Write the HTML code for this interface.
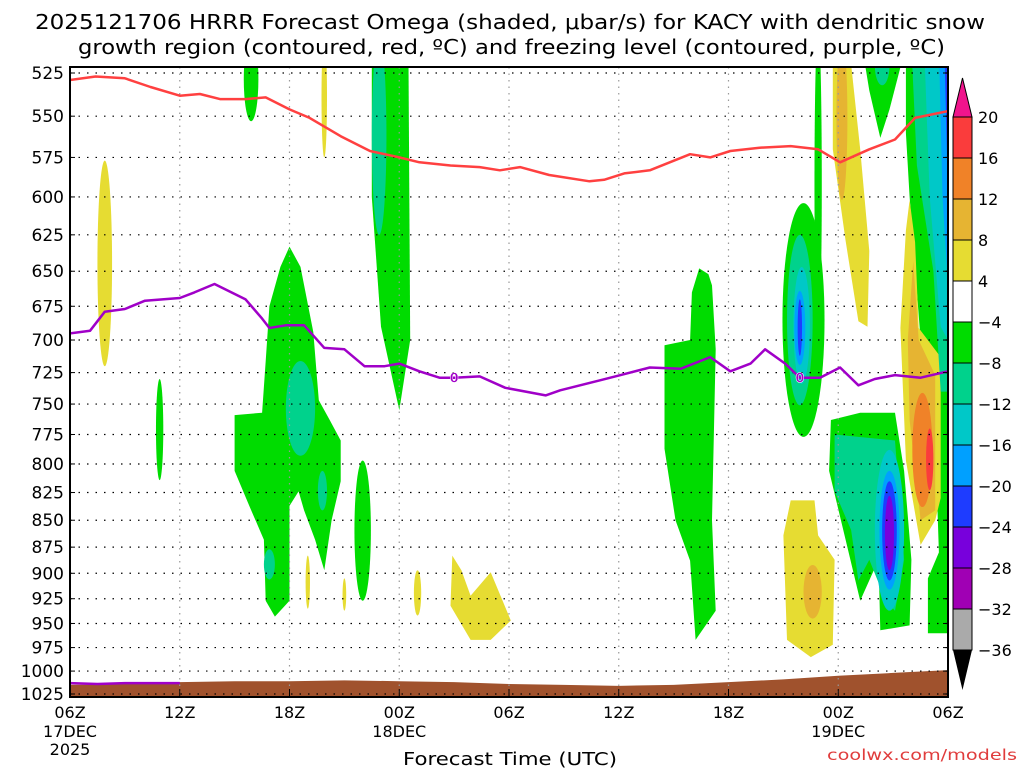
<!DOCTYPE html>
<html><head><meta charset="utf-8"><style>
html,body{margin:0;padding:0;background:#fff;width:1024px;height:768px;overflow:hidden}
svg text{font-family:"DejaVu Sans","Liberation Sans",sans-serif}
</style></head><body>
<svg id="c" width="1024" height="768" viewBox="0 0 1024 768" xmlns="http://www.w3.org/2000/svg">
<text x="35" y="29" font-size="20" textLength="950" lengthAdjust="spacingAndGlyphs">2025121706 HRRR Forecast Omega (shaded, μbar/s) for KACY with dendritic snow</text>
<text x="78" y="54" font-size="20" textLength="867" lengthAdjust="spacingAndGlyphs">growth region (contoured, red, ºC) and freezing level (contoured, purple, ºC)</text>
<g id="shade"></g>
<g id="grid"></g>
<g id="lines"></g>
<g id="axes"></g>
<g id="cbar"></g>
<text x="403" y="765" font-size="18" textLength="214" lengthAdjust="spacingAndGlyphs">Forecast Time (UTC)</text>
<text x="827" y="760" font-size="15" fill="#e03c3c" textLength="190" lengthAdjust="spacingAndGlyphs">coolwx.com/models</text>
</svg>
<script>
const pressureTicks=[525,550,575,600,625,650,675,700,725,750,775,800,825,850,875,900,925,950,975,1000,1025];
const timeTicks=[0,6,12,18,24,30,36,42,48];
const timeLabels=["06Z","12Z","18Z","00Z","06Z","12Z","18Z","00Z","06Z"];
const dateLabels={0:["17DEC","2025"],18:["18DEC"],42:["19DEC"]};
const levelColors={"1":"#e6dc32","2":"#e6b432","3":"#f08228","4":"#fa3c3c","-1":"#00dc00","-2":"#00d28c","-3":"#00c8c8","-4":"#00a0ff","-5":"#1e3cff","-6":"#7800dc","-7":"#a000b4"};
const cbarColors=["#fa3c3c","#f08228","#e6b432","#e6dc32","#ffffff","#00dc00","#00d28c","#00c8c8","#00a0ff","#1e3cff","#7800dc","#a000b4","#aaaaaa"];
const cbarLabels=["20","16","12","8","4","\u22124","\u22128","\u221212","\u221216","\u221220","\u221224","\u221228","\u221232","\u221236"];
// ellipses: [hourCenter, pTop, pBottom, halfWidthHours, level]
const ellipses=[
[1.9,577,720,0.4,1],[4.9,730,814,0.2,-1],[9.9,505,553,0.4,-1],[13.9,505,575,0.15,1],
[16.9,505,625,0.4,-2],[12.6,716,793,0.8,-2],[13.8,806,841,0.25,-2],[10.9,877,906,0.3,-2],
[16.0,797,927,0.45,-1],[13.0,883,935,0.12,1],[15.0,905,937,0.1,1],[19.0,897,942,0.2,1],
[40.9,500,700,0.2,-1],[40.1,604,777,1.15,-1],[39.9,625,751,0.7,-2],[40.0,647,734,0.45,-3],
[39.9,664,719,0.3,-4],[39.9,670,712,0.12,-5],[42.2,505,602,0.3,2],[44.4,510,532,0.4,-2],
[46.6,741,838,0.55,3],[47.0,770,823,0.2,4],[44.8,788,937,0.8,-3],[44.8,806,916,0.55,-4],
[44.8,815,907,0.4,-5],[44.8,828,897,0.25,-6],[40.6,892,945,0.5,2]
];
// polygons: level, then [hour, pressure] vertices
const polyLevels=[-1,-1,1,1,-1,-1,-2,-3,-4,-5,1,2,-1,-2,1];
const polyPoints=[
[[16.5,510],[18.5,510],[18.6,700],[18.0,755],[17.0,690],[16.5,600]],
[[12.0,633],[12.6,647],[13.3,694],[13.6,747],[14.2,763],[14.8,780],[14.8,815],[14.3,850],[13.9,897],[13.4,868],[12.8,841],[12.5,824],[12.0,837],[12.0,927],[11.2,943],[10.7,927],[10.6,868],[9.8,837],[9.0,806],[9.0,759],[10.5,757],[10.7,716],[10.9,675],[11.5,647]],
[[20.9,883],[21.4,897],[21.9,922],[23.0,899],[24.1,947],[23.0,967],[21.9,967],[20.8,932]],
[[41.7,510],[42.6,510],[43.2,570],[43.7,636],[43.6,690],[43.1,686],[42.4,629],[41.7,570]],
[[43.3,510],[45.7,510],[44.8,546],[44.3,563],[43.7,535]],
[[45.7,510],[48,510],[48,960],[46.9,960],[46.9,905],[47.5,880],[47.3,780],[46.5,700],[45.9,600],[45.7,560]],
[[46.0,510],[48,510],[48,740],[47.6,740],[47.2,650],[46.3,580]],
[[46.7,510],[48,510],[48,700],[47.6,690],[47.0,600]],
[[47.5,510],[48,510],[48,660],[47.7,600]],
[[47.8,510],[48,510],[48,600]],
[[45.9,602],[46.2,630],[46.4,691],[47.6,713],[47.6,830],[47.3,850],[46.5,873],[45.7,797],[45.4,691],[45.7,622]],
[[46.1,643],[46.4,700],[47.3,727],[47.3,841],[46.5,850],[45.9,763],[45.8,700]],
[[41.6,763],[43.2,757],[45.1,757],[45.6,806],[46.0,887],[45.9,952],[44.3,957],[44.2,887],[43.2,927],[42.4,868],[41.5,806]],
[[41.8,775],[45.1,780],[45.6,887],[45.1,937],[44.6,927],[43.7,887],[43.1,907],[42.7,859],[41.8,824]],
[[39.4,832],[40.7,832],[40.9,864],[41.8,887],[41.7,972],[40.5,985],[39.2,967],[39.0,864]]
];
const greenColumn=[[34.4,648],[34.9,652],[35.1,660],[35.3,707],[35.1,850],[35.3,937],[34.2,967],[33.9,888],[33.1,850],[32.5,787],[32.5,704],[33.9,700],[34.0,665]];
const dgzHours=[0,1.4,3.0,4.4,6.0,7.1,8.2,9.6,10.7,12.0,13.1,14.8,16.4,18.0,19.1,20.8,22.4,23.5,24.6,26.2,28.4,29.2,30.3,31.7,33.9,35.0,36.1,37.7,39.4,40.9,42.1,43.7,45.1,46.2,48.0];
const dgzPres=[529,527,528,533,538,537,540,540,539,546,551,562,571,575,578,580,581,583,581,586,590,589,585,583,573,575,571,569,568,570,578,570,564,551,547];
const frzHours=[0,1.1,1.9,3.0,4.1,6.0,6.8,7.9,9.6,10.5,10.9,11.8,12.8,13.9,15.0,16.1,17.2,18.0,19.1,20.2,21.0,22.4,23.8,26.0,26.8,29.0,30.1,31.7,33.4,35.0,36.1,37.2,38.0,39.1,39.9,41.0,42.1,43.1,44.0,45.1,46.5,48.0];
const frzPres=[695,693,679,677,671,669,665,659,670,684,691,689,689,706,707,720,720,718,724,729,729,728,737,743,739,731,727,721,722,713,724,718,707,718,729,729,721,735,730,727,729,724];
const frzLowHours=[0,1.5,3,6];
const frzLowPres=[1013,1014,1013,1013];
const sfcHours=[0,3,6,9,12,15,18,21,24,27,30,33,36,39,42,45,48];
const sfcPres=[1015,1014,1012,1011,1011,1010,1011,1012,1014,1015,1016,1015,1012,1009,1005,1002,999];

const NS="http://www.w3.org/2000/svg";
const X0=70,X1=948,YT=67,YB=697;
const X=h=>X0+h*(X1-X0)/48;
const lp0=Math.log(525),lp1=Math.log(1025);
const Y=p=>73+(Math.log(p)-lp0)/(lp1-lp0)*621;
function mk(tag,attrs,parent){const e=document.createElementNS(NS,tag);for(const k in attrs)e.setAttribute(k,attrs[k]);parent.appendChild(e);return e;}
const shade=document.getElementById('shade'),grid=document.getElementById('grid'),lines=document.getElementById('lines'),axes=document.getElementById('axes'),cbar=document.getElementById('cbar');
const svg=document.getElementById('c');
const defs=mk('defs',{},svg);
const cp=mk('clipPath',{id:'plotclip'},defs);
mk('rect',{x:X0,y:YT,width:X1-X0,height:YB-YT},cp);
shade.setAttribute('clip-path','url(#plotclip)');
lines.setAttribute('clip-path','url(#plotclip)');

const shapes=[];
polyLevels.forEach((l,i)=>shapes.push({l:l,kind:'p',pts:polyPoints[i]}));
shapes.push({l:-1,kind:'p',pts:greenColumn});
ellipses.forEach(e=>shapes.push({l:e[4],kind:'e',e:e}));
shapes.sort((a,b)=>Math.abs(a.l)-Math.abs(b.l));
shapes.forEach(s=>{
  let el;
  if(s.kind==='p'){
    el=mk('polygon',{points:s.pts.map(q=>X(q[0]).toFixed(1)+','+Y(q[1]).toFixed(1)).join(' '),fill:levelColors[s.l]},shade);
  }else{
    const e=s.e,t=Y(e[1]),b=Y(e[2]);
    el=mk('ellipse',{cx:X(e[0]),cy:(t+b)/2,rx:e[3]*(X1-X0)/48,ry:(b-t)/2,fill:levelColors[s.l]},shade);
  }
  
  
});
const sp=sfcHours.map((h,i)=>X(h)+','+Y(sfcPres[i])).join(' ');
const sfc=mk('polygon',{points:X(0)+','+YB+' '+sp+' '+X(48)+','+YB,fill:'#a0522d'},shade);



pressureTicks.forEach(p=>{
  const l=mk('line',{x1:X0,x2:X1,y1:Y(p),y2:Y(p),stroke:'#000','stroke-width':1.2,'stroke-dasharray':'1.5 7'},grid);
  
  
});
timeTicks.forEach(h=>{
  const l=mk('line',{x1:X(h),x2:X(h),y1:YT,y2:YB,stroke:'#999','stroke-width':1.2,'stroke-dasharray':'1.5 5'},grid);
  
  
});

function drawLine(hs,ps,color,name){
  const pl=mk('polyline',{points:hs.map((h,i)=>X(h).toFixed(1)+','+Y(ps[i]).toFixed(1)).join(' '),fill:'none',stroke:color,'stroke-width':2.5,'stroke-linejoin':'round'},lines);
  
  
}
drawLine(dgzHours,dgzPres,'#ff4040','dgz-contour-line');
drawLine(frzHours,frzPres,'#a000c8','freezing-level-line');
drawLine(frzLowHours,frzLowPres,'#a000c8','freezing-level-low-line');
[21.0,39.9].forEach(h=>{
  const i=frzHours.indexOf(h);
  const t=mk('text',{x:X(h),y:Y(frzPres[i])+5,'text-anchor':'middle','font-size':13,'font-weight':'bold',fill:'#a000c8',stroke:'#fff','stroke-width':0.5},lines);
  t.textContent='0';
  
  
});

mk('rect',{x:X0,y:YT,width:X1-X0,height:YB-YT,fill:'none',stroke:'#000','stroke-width':2},axes);
pressureTicks.forEach(p=>{
  const t=mk('text',{x:64,y:Y(p)+6,'text-anchor':'end','font-size':17},axes);
  t.textContent=p;
  
  
  mk('line',{x1:X0,x2:X0+5,y1:Y(p),y2:Y(p),stroke:'#000','stroke-width':1},axes);
  mk('line',{x1:X1,x2:X1-5,y1:Y(p),y2:Y(p),stroke:'#000','stroke-width':1},axes);
});
timeTicks.forEach((h,i)=>{
  mk('line',{x1:X(h),x2:X(h),y1:YB,y2:YB-8,stroke:'#000','stroke-width':1},axes);
  const t=mk('text',{x:X(h),y:718,'text-anchor':'middle','font-size':16},axes);
  t.textContent=timeLabels[i];
  
  
  if(dateLabels[h]){
    dateLabels[h].forEach((s,j)=>{
      const d=mk('text',{x:X(h),y:737+j*18,'text-anchor':'middle','font-size':16},axes);
      d.textContent=s;
      
      
    });
  }
});

const CX=953,CW=19,CT=117,CH=41;
const tri=mk('polygon',{points:`${CX},${CT} ${CX+CW},${CT} ${CX+CW/2},78`,fill:'#f0148c',stroke:'#000','stroke-width':1},cbar);


cbarColors.forEach((c,i)=>{
  const r=mk('rect',{x:CX,y:CT+i*CH,width:CW,height:CH,fill:c,stroke:'#000','stroke-width':1},cbar);
  
  
});
const yb=CT+cbarColors.length*CH;
const tri2=mk('polygon',{points:`${CX},${yb} ${CX+CW},${yb} ${CX+CW/2},${yb+40}`,fill:'#000'},cbar);


cbarLabels.forEach((s,i)=>{
  const t=mk('text',{x:978,y:CT+i*CH+6,'font-size':16},cbar);
  t.textContent=s;
  
  
});
</script>
</body></html>
